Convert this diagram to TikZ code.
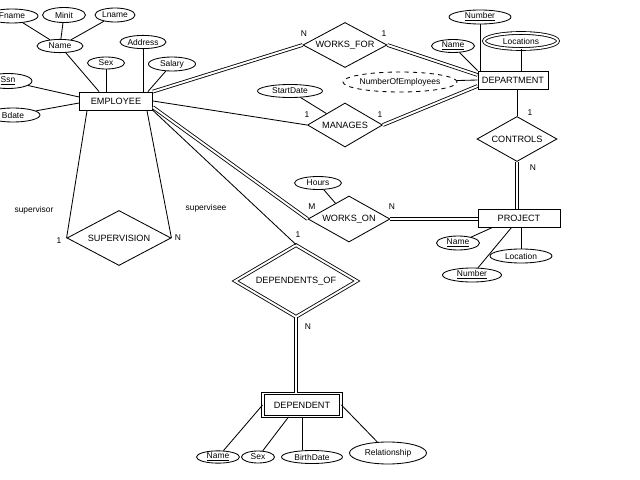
\documentclass[tikz,border=0pt]{standalone}
\usepackage{fontspec}
\setmainfont{Liberation Sans}
\usetikzlibrary{shapes.geometric}
\usetikzlibrary{calc}
\newcommand{\entfont}{\fontsize{6.5}{7.5}\selectfont}
\newcommand{\attfont}{\fontsize{6}{7}\selectfont}
\tikzset{
        entity/.style={draw,rectangle,inner sep=0pt,font=\entfont},
        rel/.style={draw,diamond,aspect=2,inner sep=0pt,font=\entfont},
        attr/.style={draw,ellipse,inner sep=0pt,font=\attfont},
        lbl/.style={inner sep=0pt,font=\attfont},
        dbl/.style={double,double distance=1.4pt},
        }

\begin{document}
\begin{tikzpicture}[x=0.025cm,y=-0.025cm,line width=0.6pt]
					\useasboundingbox (0,0) rectangle (640,480);
					\clip (0,0) rectangle (640,480);

					% entities...................
					\node [entity,minimum width=1.825cm,minimum height=0.45cm] (emp) at (116,101) {EMPLOYEE};
					\node [entity,minimum width=1.75cm,minimum height=0.45cm] (dept) at (513,80) {DEPARTMENT};
					\node [entity,minimum width=2.05cm,minimum height=0.45cm] (proj) at (519,218) {PROJECT};
					\node [entity,dbl,minimum width=1.95cm,minimum height=0.575cm] (dep) at (302,405) {DEPENDENT};

					% relationships...................
					\node [rel,minimum width=2.1cm,minimum height=1.125cm] (wf) at (345,45) {WORKS\_FOR};
					\node [rel,minimum width=1.875cm,minimum height=1.1cm] (man) at (345,125) {MANAGES};
					\node [rel,minimum width=2cm,minimum height=1.125cm] (ctrl) at (517,139) {CONTROLS};
					\node [rel,minimum width=2.05cm,minimum height=1.15cm] (won) at (349,219) {WORKS\_ON};
					\node [rel,minimum width=2.6cm,minimum height=1.375cm] (sup) at (119,238) {SUPERVISION};
					\node [rel,dbl,minimum width=3.05cm,minimum height=1.8cm] (depof) at (296,281) {DEPENDENTS\_OF};

					% EMPLOYEE attributes.............
					\node [attr,minimum width=1.3cm,minimum height=0.35cm] (efname) at (12,16) {Fname};
					\node [attr,minimum width=1.075cm,minimum height=0.375cm] (eminit) at (64,15) {Minit};
					\node [attr,minimum width=1cm,minimum height=0.35cm] (elname) at (115,15) {Lname};
					\node [attr,minimum width=1.15cm,minimum height=0.33cm] (ename) at (60,46) {Name};
					\node [attr,minimum width=1.15cm,minimum height=0.33cm] (eaddr) at (143,42) {Address};
					\node [attr,minimum width=0.925cm,minimum height=0.3cm] (esex) at (106,63) {Sex};
					\node [attr,minimum width=1.175cm,minimum height=0.35cm] (esal) at (172,64) {Salary};
					\node [attr,minimum width=1.2cm,minimum height=0.375cm] (essn) at (8,81) {\underline{Ssn}};
					\node [attr,minimum width=1.35cm,minimum height=0.35cm] (ebd) at (13,115) {Bdate};

					% DEPARTMENT attributes.............
					\node [attr,minimum width=1.55cm,minimum height=0.35cm] (dnum) at (480,17) {\underline{Number}};
					\node [attr,minimum width=1.075cm,minimum height=0.325cm] (dname) at (453,46) {\underline{Name}};
					\node [attr,dbl,minimum width=1.85cm,minimum height=0.4cm] (dloc) at (521,41) {Locations};
					\node [attr,dashed,minimum width=2.6cm,minimum height=0.5cm] (noe) at (400,82) {NumberOfEmployees};

					% relationship attributes.............
					\node [attr,minimum width=1.625cm,minimum height=0.325cm] (start) at (290,91) {StartDate};
					\node [attr,minimum width=1.175cm,minimum height=0.325cm] (hours) at (318,183) {Hours};

					% PROJECT attributes.............
					\node [attr,minimum width=1.075cm,minimum height=0.35cm] (pname) at (458,243) {\underline{Name}};
					\node [attr,minimum width=1.475cm,minimum height=0.35cm] (pnum) at (472,275) {\underline{Number}};
					\node [attr,minimum width=1.55cm,minimum height=0.35cm] (ploc) at (521,256) {Location};

					% DEPENDENT attributes.............
					\node [attr,minimum width=1.075cm,minimum height=0.3cm] (depname) at (218,457) {\underline{Name}};
					\node [attr,minimum width=0.825cm,minimum height=0.3cm] (depsex) at (258,457) {Sex};
					\node [attr,minimum width=1.525cm,minimum height=0.325cm] (depbirth) at (312,457) {BirthDate};
					\node [attr,minimum width=1.925cm,minimum height=0.55cm] (deprel) at (388,453) {Relationship};

					% attribute lines...................
					\draw (efname) -- (ename);
					\draw (eminit) -- (ename);
					\draw (elname) -- (ename);
					\draw (ename) -- ([xshift=0.5cm]emp.north west);
					\draw (esex) -- (esex |- emp.north);
					\draw (eaddr) -- (eaddr |- emp.north);
					\draw (esal) -- ([xshift=-0.125cm]emp.north east);
					\draw (essn) -- ([yshift=0.1cm]emp.west);
					\draw (ebd) -- ([yshift=-0.05cm]emp.west);
					\draw (dnum) -- (dnum |- dept.north);
					\draw (dname) -- (dept.north west);
					\draw (dloc) -- (dloc |- dept.north);
					\draw (noe) -- (dept.west);
					\draw (start) -- (man);
					\draw (hours) -- (won);
					\draw (pname) -- ([xshift=0.375cm]proj.south west);
					\draw (pnum) -- ([xshift=0.85cm]proj.south west);
					\draw (ploc) -- (ploc |- proj.south);
					\draw (depname) -- (dep.west);
					\draw (depsex) -- ([xshift=0.65cm]dep.south west);
					\draw (dep.south) -- (dep.south |- depbirth.north);
					\draw (deprel) -- (dep.east);

					% relationship lines...................
					\draw [dbl] (emp.north east) -- (wf.west);
					\draw [dbl] (wf.east) -- ([yshift=0.125cm]dept.west);
					\draw (emp.east) -- (man.west);
					\draw [dbl] (man.east) -- ([yshift=-0.15cm]dept.west);
					\draw (ctrl.north) -- (ctrl.north |- dept.south);
					\draw [dbl] (ctrl.south) -- (ctrl.south |- proj.north);
					\draw [dbl] ([yshift=0.08cm]emp.south east) -- (won.west);
					\draw [dbl] (won.east) -- (won.east -| proj.west);
					\draw ([xshift=0.2cm]emp.south west) -- (sup.west);
					\draw ([xshift=-0.15cm]emp.south east) -- (sup.east);
					\draw (emp.south east) -- (depof.north);
					\draw [dbl] (depof.south) -- (depof.south |- dep.north);

					% cardinality labels..............................
					\node [lbl] (wfn) at (304,34) {N};
					\node [lbl] (wf1) at (384,34) {1};
					\node [lbl] (manl) at (307,115) {1};
					\node [lbl] (manr) at (380,115) {1};
					\node [lbl] (ctrl1) at (530,113) {1};
					\node [lbl] (ctrln) at (533,168) {N};
					\node [lbl] (wonm) at (312,207) {M};
					\node [lbl] (wonn) at (392,207) {N};
					\node [lbl] (sup1) at (59,241) {1};
					\node [lbl] (supn) at (178,238) {N};
					\node [lbl] (depof1) at (298,235) {1};
					\node [lbl] (depofn) at (308,327) {N};
					\node [lbl] (role1) at (34,210) {supervisor};
					\node [lbl] (role2) at (206,208) {supervisee};
				\end{tikzpicture}
\end{document}
